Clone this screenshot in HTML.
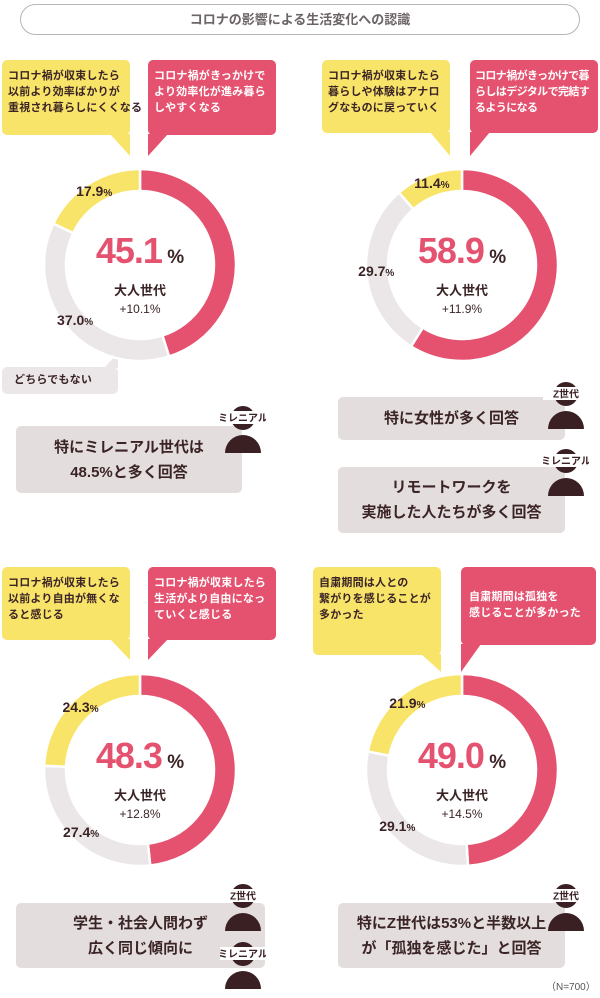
<!DOCTYPE html>
<html><head><meta charset="utf-8">
<style>
body{margin:0;width:600px;height:998px;background:#fff;position:relative;overflow:hidden;font-family:"Liberation Sans","Noto Sans CJK JP",sans-serif;color:#3b2426}
.abs{position:absolute}
.title{left:20px;top:4px;width:558px;height:29px;border:1.5px solid #b9b4b5;border-radius:16px;text-align:center;line-height:29px;font-size:13px;color:#6b6365;font-weight:bold}
.bub{position:absolute;font-size:11px;font-weight:bold;line-height:16px;padding:8px 6px;box-sizing:border-box;border-radius:5px;white-space:nowrap;letter-spacing:0.2px}
.y{background:#f9e46a;color:#3b2426}
.p{background:#e5526f;color:#fff}
.g{background:#ebe7e8;color:#3b2426}
.box{position:absolute;background:#e3dddd;border-radius:5px;font-size:15px;font-weight:bold;text-align:center;display:flex;align-items:center;justify-content:center;line-height:25px;color:#3b2426}
.icon{position:absolute;width:46px;height:52px}
.note{font-size:10px;color:#555}
</style></head><body>
<div class="abs title">コロナの影響による生活変化への認識</div>

<svg class="abs" style="left:0;top:0" width="600" height="998" id="tails">
<polygon points="110,134 130,134 130,156" fill="#f9e46a"/>
<polygon points="148,134 168,134 148,156" fill="#e5526f"/>
<polygon points="104,368 118,368 118,353" fill="#ebe7e8"/>
<polygon points="430,132 450,132 450,156" fill="#f9e46a"/>
<polygon points="470,132 490,132 470,156" fill="#e5526f"/>
<polygon points="110,639 130,639 130,660" fill="#f9e46a"/>
<polygon points="148,639 168,639 148,660" fill="#e5526f"/>
<polygon points="421,654 441,654 441,672" fill="#f9e46a"/>
<polygon points="461,644 481,644 461,672" fill="#e5526f"/>
<g id="donuts"></g>
</svg>

<div class="bub y" style="left:2px;top:60px;width:128px;height:75px">コロナ禍が収束したら<br>以前より効率ばかりが<br>重視され暮らしにくくなる</div>
<div class="bub p" style="left:148px;top:60px;width:128px;height:75px">コロナ禍がきっかけで<br>より効率化が進み暮ら<br>しやすくなる</div>
<div class="bub g" style="left:2px;top:367px;width:116px;height:27px;padding:5px 12px">どちらでもない</div>

<div class="bub y" style="left:322px;top:60px;width:128px;height:73px">コロナ禍が収束したら<br>暮らしや体験はアナロ<br>グなものに戻っていく</div>
<div class="bub p" style="left:470px;top:60px;width:128px;height:73px;letter-spacing:-0.6px;padding-left:5px">コロナ禍がきっかけで暮<br>らしはデジタルで完結す<br>るようになる</div>

<div class="bub y" style="left:2px;top:567px;width:128px;height:73px">コロナ禍が収束したら<br>以前より自由が無くな<br>ると感じる</div>
<div class="bub p" style="left:148px;top:567px;width:128px;height:73px">コロナ禍が収束したら<br>生活がより自由になっ<br>ていくと感じる</div>

<div class="bub y" style="left:313px;top:567px;width:128px;height:88px">自粛期間は人との<br>繋がりを感じることが<br>多かった</div>
<div class="bub p" style="left:461px;top:567px;width:135px;height:78px;padding-top:22px;padding-left:8px">自粛期間は孤独を<br>感じることが多かった</div>

<div id="centers"></div>

<div class="box" style="left:16px;top:426px;width:226px;height:67px">特にミレニアル世代は<br>48.5%と多く回答</div>
<div class="box" style="left:338px;top:397px;width:227px;height:43px">特に女性が多く回答</div>
<div class="box" style="left:338px;top:467px;width:227px;height:66px">リモートワークを<br>実施した人たちが多く回答</div>
<div class="box" style="left:16px;top:903px;width:249px;height:65px">学生・社会人問わず<br>広く同じ傾向に</div>
<div class="box" style="left:338px;top:903px;width:227px;height:65px">特にZ世代は53%と半数以上<br>が「孤独を感じた」と回答</div>
<div class="abs note" style="left:546px;top:978px">（N=700）</div>

<div id="icons"></div>

<script>
const pinkVals=[45.1,58.9,48.3,49.0];
const grayVals=[37.0,29.7,27.4,29.1];
const yellowVals=[17.9,11.4,24.3,21.9];
const diffLabels=["+10.1%","+11.9%","+12.8%","+14.5%"];
const centersXY=[[140,265],[462,265],[140,770],[462,770]];
const colors=["#e5526f","#ebe7e8","#f9e46a"];
const R=96,r=74;
const ns="http://www.w3.org/2000/svg";
const g=document.getElementById('donuts');
function pt(cx,cy,rad,pct){const a=pct/100*2*Math.PI;return [cx+rad*Math.sin(a),cy-rad*Math.cos(a)];}
function arc(cx,cy,p0,p1){
  const large=(p1-p0)>50?1:0;
  const a=pt(cx,cy,R,p0),b=pt(cx,cy,R,p1),c=pt(cx,cy,r,p1),d=pt(cx,cy,r,p0);
  return `M${a[0]},${a[1]} A${R},${R} 0 ${large} 1 ${b[0]},${b[1]} L${c[0]},${c[1]} A${r},${r} 0 ${large} 0 ${d[0]},${d[1]} Z`;
}
const cdiv=document.getElementById('centers');
for(let i=0;i<4;i++){
  const [cx,cy]=centersXY[i];
  const vals=[pinkVals[i],grayVals[i],yellowVals[i]];
  let acc=0;
  for(let k=0;k<3;k++){
    const p=document.createElementNS(ns,'path');
    p.setAttribute('d',arc(cx,cy,acc,acc+vals[k]));
    p.setAttribute('fill',colors[k]);
    p.setAttribute('stroke','#fff');p.setAttribute('stroke-width','2.5');
    
    
    g.appendChild(p);
    if(k>0){
      const m=pt(cx,cy,86,acc+vals[k]/2);
      const t=document.createElement('div');
      t.className='abs';
      t.style.cssText=`left:${m[0]-40}px;top:${m[1]-9}px;width:80px;text-align:center;font-weight:bold;font-size:14px;color:#3b2426`;
      t.innerHTML=vals[k].toFixed(1)+'<span style="font-size:10px">%</span>';
      
      
      cdiv.appendChild(t);
    }
    acc+=vals[k];
  }
  const c=document.createElement('div');
  c.className='abs';
  c.style.cssText=`left:${cx-70}px;top:${cy-34}px;width:140px;text-align:center`;
  c.innerHTML=`<div style="font-size:36px;font-weight:bold;color:#e5526f;line-height:40px;letter-spacing:-1px">${pinkVals[i].toFixed(1)}<span style="font-size:19px;color:#3b2426;letter-spacing:0"> %</span></div><div style="font-size:13px;font-weight:bold;line-height:19px;margin-top:3px">大人世代</div><div style="font-size:12px;line-height:18px">${diffLabels[i]}</div>`;
  
  
  cdiv.appendChild(c);
}
const iconsPos=[[220,404,"ミレニアル"],[543,380,"Z世代"],[543,447,"ミレニアル"],[220,882,"Z世代"],[220,940,"ミレニアル"],[543,882,"Z世代"]];
const idiv=document.getElementById('icons');
iconsPos.forEach((q,j)=>{
  const d=document.createElement('div');
  d.className='icon';
  d.style.left=q[0]+'px';d.style.top=q[1]+'px';
  d.innerHTML=`<svg width="46" height="52"><circle cx="23" cy="14" r="12" fill="#3a1f23"/><rect x="0" y="7" width="46" height="13" fill="#fff"/><text x="23" y="17.5" font-size="10" font-weight="bold" text-anchor="middle" fill="#3a1f23" font-family="Liberation Sans,Noto Sans CJK JP,sans-serif">${q[2]}</text><path d="M5,52 A18,18 0 0 1 41,52 Z" fill="#3a1f23" transform="translate(0,-3)"/></svg>`;
  
  
  idiv.appendChild(d);
});
</script>
</body></html>
